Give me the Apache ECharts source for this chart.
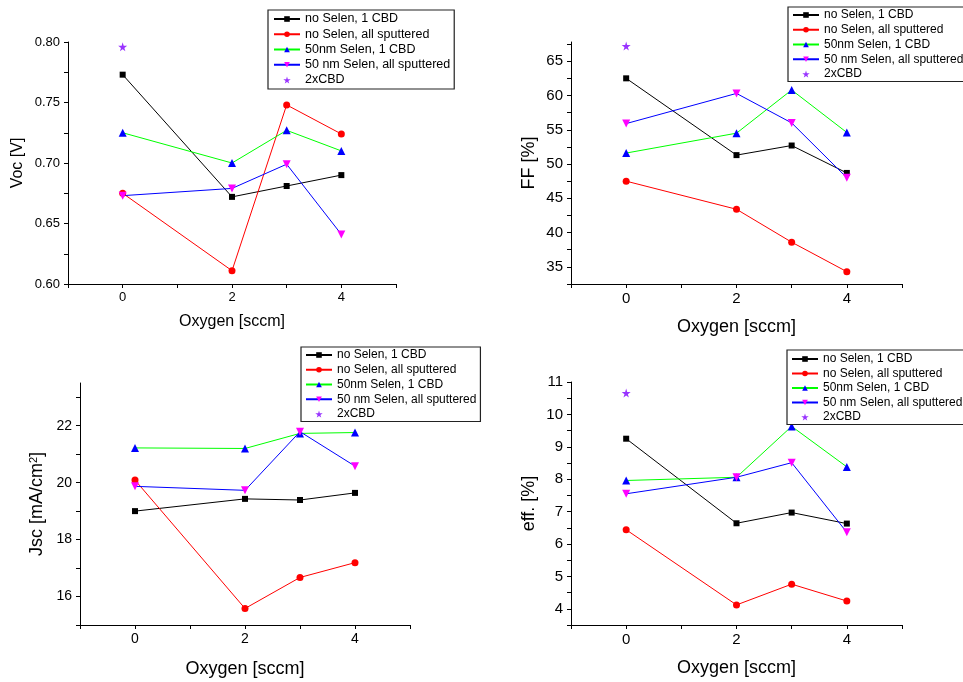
<!DOCTYPE html>
<html>
<head>
<meta charset="utf-8">
<script src="https://cdn.jsdelivr.net/npm/echarts@6/dist/echarts.min.js"></script>
<style>
html, body { margin: 0; padding: 0; background: #fff; }
#main { width: 963px; height: 682px; }
</style>
</head>
<body>
<div id="main"></div>
<script>
// x values (oxygen flow, sccm)
var oxygen = [0, 2, 3, 4];
var seriesNames = ['no Selen, 1 CBD', 'no Selen, all sputtered', '50nm Selen, 1 CBD', '50 nm Selen, all sputtered', '2xCBD'];

// Voc [V]
var vocNoSe1Cbd = [0.773, 0.672, 0.681, 0.690];
var vocNoSeSput = [0.675, 0.611, 0.748, 0.724];
var vocSe1Cbd = [0.725, 0.700, 0.727, 0.710];
var vocSeSput = [0.673, 0.679, 0.699, 0.641];
var vocCbd2 = 0.796;

// FF [%]
var ffNoSe1Cbd = [62.5, 51.3, 52.7, 48.7];
var ffNoSeSput = [47.5, 43.4, 38.6, 34.3];
var ffSe1Cbd = [51.6, 54.5, 60.8, 54.6];
var ffSeSput = [55.9, 60.3, 56.0, 48.0];
var ffCbd2 = 67.2;

// Jsc [mA/cm2]
var jscNoSe1Cbd = [19.00, 19.43, 19.39, 19.64];
var jscNoSeSput = [20.09, 15.58, 16.67, 17.19];
var jscSe1Cbd = [21.22, 21.20, 21.73, 21.76];
var jscSeSput = [19.87, 19.73, 21.79, 20.58];
var jscCbd2 = null;

// eff. [%]
var effNoSe1Cbd = [9.25, 6.64, 6.97, 6.63];
var effNoSeSput = [6.44, 4.12, 4.76, 4.24];
var effSe1Cbd = [7.96, 8.06, 9.63, 8.38];
var effSeSput = [7.55, 8.06, 8.51, 6.36];
var effCbd2 = 10.66;

// tick positions and labels
var xTicks = [-1, 0, 1, 2, 3, 4, 5];
var xLabels = [0, 2, 4];
var vocTicks = [0.600, 0.625, 0.650, 0.675, 0.700, 0.725, 0.750, 0.775, 0.800];
var vocLabels = [0.60, 0.65, 0.70, 0.75, 0.80];
var ffTicks = [32.5, 35, 37.5, 40, 42.5, 45, 47.5, 50, 52.5, 55, 57.5, 60, 62.5, 65, 67.5];
var ffLabels = [35, 40, 45, 50, 55, 60, 65];
var jscTicks = [15, 16, 17, 18, 19, 20, 21, 22, 23];
var jscLabels = [16, 18, 20, 22];
var effTicks = [3.5, 4, 4.5, 5, 5.5, 6, 6.5, 7, 7.5, 8, 8.5, 9, 9.5, 10, 10.5, 11];
var effLabels = [4, 5, 6, 7, 8, 9, 10, 11];

var FONT = '"Liberation Sans", Arial, sans-serif';
var starPath = 'path://M50,0 L61,35 L98,35 L68,57 L79,91 L50,70 L21,91 L32,57 L2,35 L39,35 Z';
var downTri = 'path://M0,0 L10,0 L5,9 Z';

var styles = [
    {line: '#000000', mark: '#000000', symbol: 'rect', size: 6},
    {line: '#ff0000', mark: '#ff0000', symbol: 'circle', size: 7},
    {line: '#00ff00', mark: '#0000ff', symbol: 'triangle', size: 8},
    {line: '#0000ff', mark: '#ff00ff', symbol: downTri, size: 8}
];

var panels = [
    {grid: {left: 68, top: 42, width: 328, height: 242}, lists: [vocNoSe1Cbd, vocNoSeSput, vocSe1Cbd, vocSeSput], star: vocCbd2,
        yMin: 0.6, yMax: 0.8, yTicks: vocTicks, yLabels: vocLabels, yName: 'Voc [V]', yGap: 42, yNameSize: 16, tickSize: 13,
        xGap: 30, xNameSize: 16, fmt: function (v) { return v.toFixed(2); },
        legend: {left: 268, top: 10, padding: [2.5, 4, 2.5, 5], itemGap: 2.25, fontSize: 12.5}},
    {grid: {left: 571, top: 42, width: 331, height: 242}, lists: [ffNoSe1Cbd, ffNoSeSput, ffSe1Cbd, ffSeSput], star: ffCbd2,
        yMin: 32.5, yMax: 67.8, yTicks: ffTicks, yLabels: ffLabels, yName: 'FF [%]', yGap: 33, yNameSize: 18, tickSize: 15,
        xGap: 34, xNameSize: 18, fmt: function (v) { return String(v); },
        legend: {left: 788, top: 7, padding: [2, 4, 1.5, 4], itemGap: 2.75, fontSize: 12}},
    {grid: {left: 80, top: 383, width: 330, height: 242}, lists: [jscNoSe1Cbd, jscNoSeSput, jscSe1Cbd, jscSeSput], star: jscCbd2,
        yMin: 15, yMax: 23.5, yTicks: jscTicks, yLabels: jscLabels, yName: 'Jsc [mA/cm{sup|2}]', yGap: 33, yNameSize: 18, tickSize: 14,
        xGap: 35, xNameSize: 18, fmt: function (v) { return String(v); },
        legend: {left: 301, top: 347, padding: [2, 4, 1.5, 4], itemGap: 2.75, fontSize: 12}},
    {grid: {left: 571, top: 382, width: 331, height: 243}, lists: [effNoSe1Cbd, effNoSeSput, effSe1Cbd, effSeSput], star: effCbd2,
        yMin: 3.5, yMax: 11, yTicks: effTicks, yLabels: effLabels, yName: 'eff. [%]', yGap: 33, yNameSize: 18, tickSize: 15,
        xGap: 34, xNameSize: 18, fmt: function (v) { return String(v); },
        legend: {left: 787, top: 350, padding: [3, 4, 1.5, 4], itemGap: 2.5, fontSize: 12}}
];

var option = {
    animation: false,
    backgroundColor: '#ffffff',
    textStyle: {fontFamily: FONT},
    grid: [], xAxis: [], yAxis: [], legend: [], series: []
};

panels.forEach(function (p, i) {
    option.grid.push(p.grid);

    option.xAxis.push({
        type: 'value', gridIndex: i, min: -1, max: 5,
        name: 'Oxygen [sccm]', nameLocation: 'middle', nameGap: p.xGap,
        nameTextStyle: {fontSize: p.xNameSize, color: '#000', fontFamily: FONT},
        axisLine: {onZero: false, lineStyle: {color: '#000', width: 1}},
        axisTick: {customValues: xTicks, length: 4, lineStyle: {color: '#000'}},
        axisLabel: {customValues: xLabels, fontSize: p.tickSize, color: '#000', margin: 7, fontFamily: FONT},
        splitLine: {show: false}
    });

    option.yAxis.push({
        type: 'value', gridIndex: i, min: p.yMin, max: p.yMax,
        name: p.yName, nameLocation: 'middle', nameGap: p.yGap,
        nameTextStyle: {fontSize: p.yNameSize, color: '#000', fontFamily: FONT,
            rich: {sup: {fontSize: 11, verticalAlign: 'top', padding: [0, 0, 8, 0], color: '#000', fontFamily: FONT}}},
        axisLine: {onZero: false, lineStyle: {color: '#000', width: 1}},
        axisTick: {customValues: p.yTicks, length: 4, lineStyle: {color: '#000'}},
        axisLabel: {customValues: p.yLabels, fontSize: p.tickSize, color: '#000', margin: 8, fontFamily: FONT, formatter: p.fmt},
        splitLine: {show: false}
    });

    option.legend.push({
        orient: 'vertical', left: p.legend.left, top: p.legend.top,
        padding: p.legend.padding, itemGap: p.legend.itemGap,
        itemWidth: 26, itemHeight: 7,
        borderColor: '#222', borderWidth: 1.2, backgroundColor: '#fff',
        textStyle: {fontSize: p.legend.fontSize, color: '#000', fontFamily: FONT},
        data: seriesNames
    });

    p.lists.forEach(function (vals, k) {
        option.series.push({
            name: seriesNames[k], type: 'line', xAxisIndex: i, yAxisIndex: i,
            data: oxygen.map(function (x, j) { return [x, vals[j]]; }),
            symbol: styles[k].symbol, symbolSize: styles[k].size,
            lineStyle: {color: styles[k].line, width: 1},
            itemStyle: {color: styles[k].mark}
        });
    });

    option.series.push({
        name: seriesNames[4], type: 'scatter', xAxisIndex: i, yAxisIndex: i,
        data: p.star === null ? [] : [[0, p.star]],
        symbol: starPath, symbolSize: 9,
        itemStyle: {color: '#8000ff'}
    });
});

var chart = echarts.init(document.getElementById('main'));
chart.setOption(option);
</script>
</body>
</html>
